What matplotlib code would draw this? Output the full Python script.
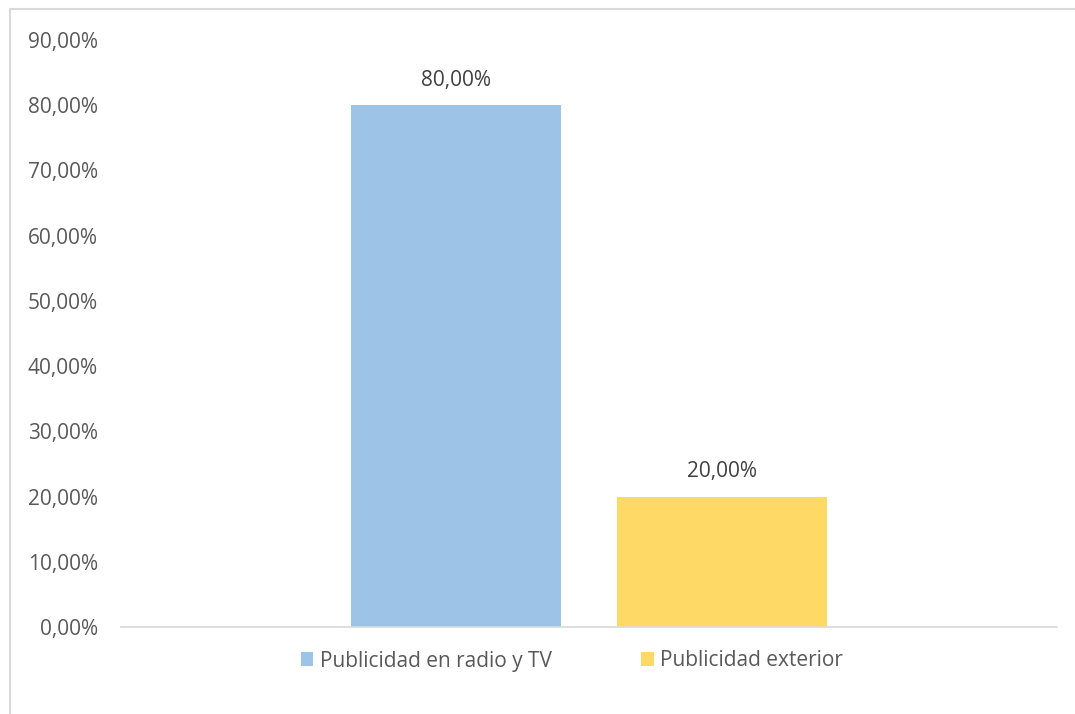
import numpy as np
import matplotlib.pyplot as plt
from matplotlib.patches import Rectangle
from matplotlib.ticker import FuncFormatter

# Datos
series = ["Publicidad en radio y TV", "Publicidad exterior"]
valores = [80.0, 20.0]
colores = ["#9DC3E6", "#FFD966"]
y_ticks = [0, 10, 20, 30, 40, 50, 60, 70, 80, 90]

plt.rcParams['font.family'] = ['Open Sans', 'DejaVu Sans']
gris_texto = "#595959"
tam = 15

fig = plt.figure(figsize=(10.75, 7.14), dpi=100)
W, H = 1075, 714
ax = fig.add_axes([121 / W, 1 - 627 / H, (1057 - 121) / W, (627 - 40) / H])

# Marco del gráfico
fig.patches.append(Rectangle((9.5 / W, -0.1), 1.2, 1 - 9.5 / H + 0.1,
                             transform=fig.transFigure, fill=False,
                             edgecolor="#D9D9D9", linewidth=1.5))

ancho = 0.224
posiciones = [-0.142, 0.142]
for pos, val, col, nom in zip(posiciones, valores, colores, series):
    ax.bar(pos, val, width=ancho, color=col, label=nom, zorder=2)
    ax.text(pos, val + 2.2, f"{val:.2f}%".replace(".", ","), ha="center",
            va="bottom", fontsize=tam, color="#404040")

ax.set_xlim(-0.5, 0.5)
ax.set_ylim(0, 90)
ax.set_yticks(y_ticks)
ax.yaxis.set_major_formatter(FuncFormatter(lambda v, p: f"{v:.2f}%".replace(".", ",")))
ax.tick_params(axis="y", length=0, labelsize=tam, labelcolor=gris_texto, pad=16.5)
ax.set_xticks([])
for s in ["top", "right", "left"]:
    ax.spines[s].set_visible(False)
ax.spines["bottom"].set_color("#D9D9D9")
ax.spines["bottom"].set_linewidth(1.2)

leg = fig.legend(loc="center", bbox_to_anchor=(0.532, 1 - 661 / H), ncol=2,
                 frameon=False, fontsize=tam, handlelength=0.62, handleheight=0.62,
                 handletextpad=0.3, columnspacing=4.3)
for t in leg.get_texts():
    t.set_color(gris_texto)

fig.savefig("out.png", dpi=100)
